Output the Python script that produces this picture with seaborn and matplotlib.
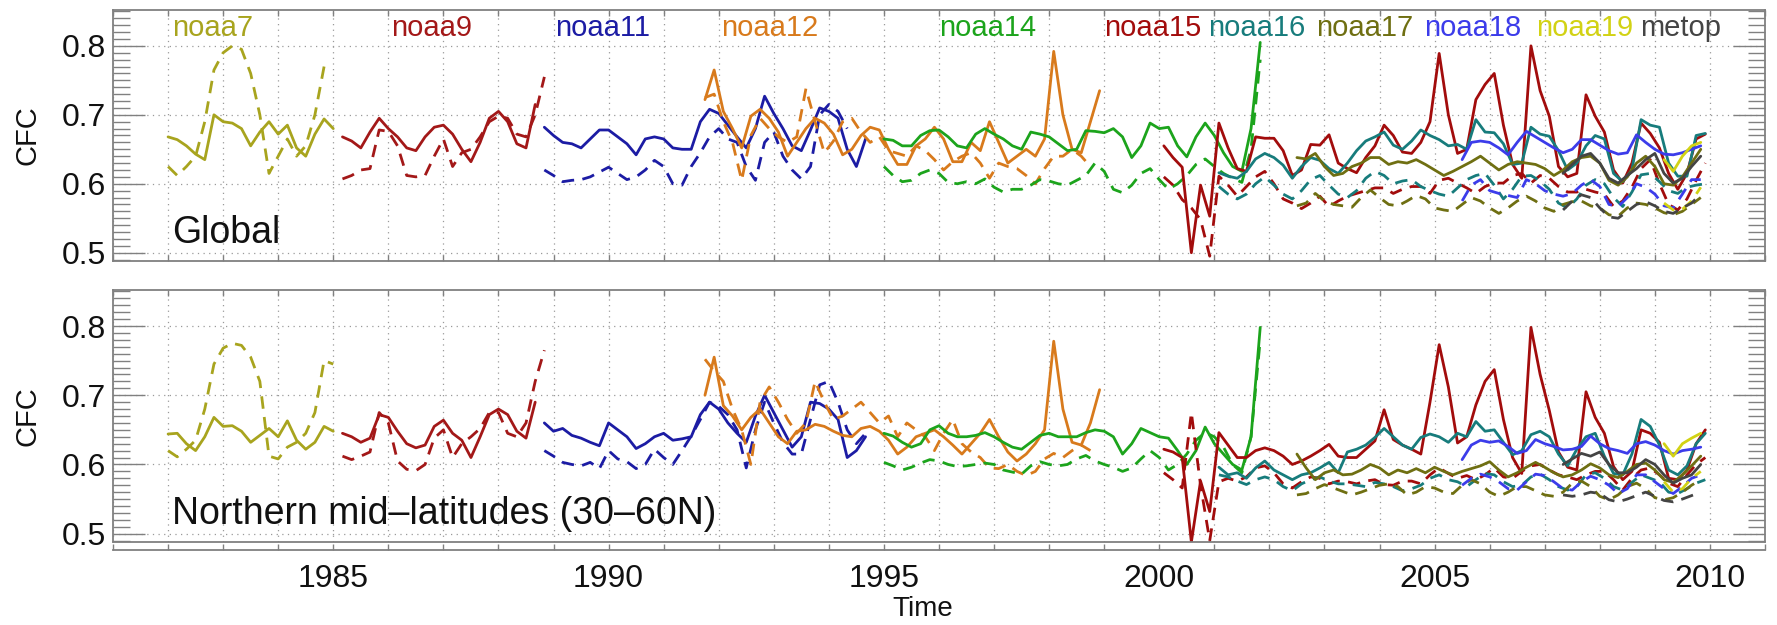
import numpy as np
import pandas as pd
import matplotlib
matplotlib.use("Agg")
import matplotlib.pyplot as plt
import seaborn as sns
from matplotlib.ticker import MultipleLocator, FixedLocator
from matplotlib.lines import Line2D
import matplotlib.transforms as mtransforms

# ---------------- data (bimonthly samples, CFC) ----------------
STEP = 1.0 / 6.0
satellites = ["noaa7", "noaa9", "noaa11", "noaa12", "noaa14", "noaa15",
              "noaa16", "noaa17", "noaa18", "noaa19", "metop"]
start_year = [1982.0, 1985.167, 1988.833, 1991.75, 1995.0, 2000.083,
              2001.083, 2002.5, 2005.5, 2009.167, 2007.333]
label_year = [1982.08, 1986.05, 1989.02, 1992.05, 1996.0, 1998.99,
              2000.89, 2002.84, 2004.8, 2006.85, 2008.73]

# Global
g7_solid = [0.668,0.664,0.655,0.643,0.635,0.700,0.690,0.688,0.680,0.655,0.675,0.690,0.672,0.685,0.652,0.640,0.672,0.694,0.680]
g7_dash = [0.625,0.612,0.625,0.640,0.690,0.765,0.790,0.800,0.795,0.760,0.700,0.615,0.640,0.665,0.640,0.655,0.700,0.770]
g9_solid = [0.668,0.662,0.652,0.675,0.695,0.680,0.668,0.652,0.648,0.668,0.682,0.685,0.672,0.650,0.632,0.660,0.695,0.705,0.690,0.658,0.652,0.715]
g9_dash = [0.607,0.612,0.620,0.622,0.678,0.676,0.655,0.612,0.610,0.612,0.640,0.665,0.625,0.645,0.650,0.668,0.690,0.698,0.695,0.672,0.668,0.700,0.755]
g11_solid = [0.682,0.670,0.660,0.658,0.652,0.665,0.678,0.678,0.668,0.658,0.642,0.665,0.668,0.665,0.652,0.650,0.650,0.690,0.708,0.702,0.685,0.668,0.652,0.680,0.727,0.702,0.680,0.655,0.648,0.678,0.710,0.705,0.695,0.650,0.625,0.665]
g11_dash = [0.620,0.612,0.603,0.605,0.606,0.610,0.617,0.624,0.615,0.606,0.610,0.620,0.634,0.625,0.600,0.598,0.625,0.645,0.668,0.680,0.665,0.660,0.625,0.605,0.660,0.675,0.640,0.620,0.607,0.625,0.700,0.715,0.705,0.680]
g12_solid = [0.722,0.765,0.705,0.680,0.652,0.698,0.708,0.695,0.675,0.640,0.660,0.680,0.695,0.688,0.672,0.642,0.650,0.670,0.682,0.678,0.650,0.628,0.628,0.655,0.665,0.682,0.665,0.632,0.632,0.660,0.648,0.690,0.660,0.630,0.640,0.650,0.640,0.665,0.792,0.700,0.650,0.645,0.690,0.735]
g12_dash = [0.725,0.730,0.690,0.660,0.605,0.670,0.695,0.680,0.668,0.660,0.668,0.738,0.690,0.645,0.662,0.690,0.695,0.675,0.660,0.668,0.648,0.644,0.640,0.655,0.648,0.635,0.620,0.632,0.640,0.645,0.630,0.608,0.630,0.625,0.622,0.612,0.600,0.622,0.640,0.640,0.650,0.640,0.625]
g14_solid = [0.665,0.663,0.655,0.655,0.670,0.677,0.678,0.668,0.655,0.652,0.672,0.680,0.672,0.665,0.655,0.650,0.675,0.672,0.668,0.658,0.648,0.650,0.677,0.676,0.674,0.680,0.668,0.638,0.655,0.688,0.680,0.682,0.655,0.639,0.668,0.688,0.670,0.645,0.625,0.618,0.680,0.805]
g14_dash = [0.625,0.612,0.603,0.605,0.615,0.620,0.615,0.602,0.600,0.603,0.600,0.607,0.595,0.588,0.592,0.592,0.598,0.606,0.604,0.600,0.598,0.605,0.612,0.630,0.618,0.592,0.587,0.598,0.615,0.622,0.606,0.592,0.600,0.612,0.628,0.636,0.625,0.615,0.608,0.602,0.650,0.780]
g15_solid = [0.655,0.638,0.624,0.500,0.598,0.553,0.688,0.652,0.622,0.618,0.668,0.666,0.666,0.648,0.612,0.620,0.657,0.656,0.671,0.630,0.622,0.616,0.638,0.655,0.685,0.670,0.646,0.644,0.660,0.690,0.789,0.700,0.644,0.650,0.722,0.744,0.760,0.685,0.628,0.608,0.800,0.735,0.698,0.625,0.610,0.615,0.729,0.698,0.675,0.620,0.601,0.630,0.688,0.673,0.652,0.615,0.592,0.615,0.665,0.672]
g15_dash = [0.610,0.598,0.577,0.565,0.548,0.495,0.611,0.598,0.582,0.596,0.610,0.618,0.600,0.578,0.572,0.564,0.572,0.582,0.567,0.575,0.582,0.586,0.590,0.594,0.594,0.586,0.592,0.596,0.596,0.586,0.605,0.608,0.601,0.594,0.586,0.596,0.601,0.601,0.612,0.615,0.601,0.612,0.608,0.596,0.588,0.588,0.592,0.588,0.585,0.567,0.575,0.595,0.622,0.635,0.600,0.570,0.562,0.578,0.605,0.630]
g16_solid = [0.616,0.611,0.608,0.618,0.636,0.644,0.638,0.627,0.608,0.625,0.638,0.634,0.622,0.615,0.630,0.648,0.662,0.668,0.675,0.656,0.650,0.662,0.678,0.670,0.664,0.655,0.657,0.650,0.693,0.675,0.674,0.658,0.628,0.630,0.682,0.672,0.669,0.648,0.620,0.630,0.655,0.670,0.665,0.615,0.603,0.620,0.693,0.685,0.682,0.630,0.611,0.611,0.670,0.673]
g16_dash = [0.596,0.585,0.578,0.585,0.600,0.610,0.598,0.585,0.578,0.590,0.606,0.612,0.598,0.585,0.580,0.590,0.608,0.618,0.612,0.600,0.604,0.606,0.596,0.590,0.585,0.582,0.594,0.606,0.612,0.615,0.598,0.578,0.592,0.611,0.612,0.604,0.592,0.572,0.565,0.578,0.598,0.606,0.600,0.580,0.567,0.588,0.613,0.615,0.603,0.590,0.586,0.595,0.598,0.600]
g17_solid = [0.638,0.636,0.644,0.625,0.612,0.615,0.625,0.630,0.638,0.638,0.628,0.632,0.630,0.635,0.628,0.620,0.612,0.618,0.625,0.632,0.640,0.630,0.620,0.628,0.632,0.630,0.628,0.622,0.612,0.620,0.632,0.638,0.640,0.630,0.605,0.598,0.610,0.630,0.640,0.625,0.600,0.598,0.610,0.630,0.650]
g17_dash = [0.568,0.572,0.586,0.575,0.570,0.568,0.566,0.580,0.591,0.580,0.570,0.568,0.575,0.583,0.578,0.565,0.562,0.560,0.570,0.580,0.575,0.565,0.557,0.565,0.575,0.582,0.575,0.565,0.560,0.570,0.574,0.575,0.568,0.565,0.555,0.553,0.565,0.572,0.570,0.565,0.558,0.555,0.560,0.570,0.580]
g18_solid = [0.635,0.660,0.662,0.660,0.652,0.642,0.660,0.676,0.668,0.660,0.652,0.645,0.650,0.664,0.664,0.656,0.648,0.643,0.645,0.671,0.660,0.650,0.643,0.642,0.645,0.650,0.655]
g18_dash = [0.575,0.598,0.606,0.590,0.586,0.583,0.580,0.606,0.600,0.590,0.585,0.582,0.586,0.598,0.606,0.596,0.570,0.567,0.580,0.600,0.595,0.585,0.568,0.565,0.585,0.606,0.606]
g19_solid = [0.635,0.618,0.640,0.655,0.660]
g19_dash = [0.572,0.562,0.563,0.575,0.595]
gm_solid = [0.615,0.628,0.640,0.644,0.630,0.608,0.601,0.612,0.622,0.635,0.644,0.615,0.601,0.608,0.625,0.640]
gm_dash = [0.562,0.575,0.584,0.580,0.565,0.552,0.550,0.560,0.570,0.574,0.568,0.560,0.557,0.565,0.572,0.585]

# Northern mid-latitudes (30-60N)
n7_solid = [0.644,0.645,0.630,0.620,0.640,0.668,0.655,0.656,0.648,0.632,0.642,0.652,0.640,0.663,0.635,0.622,0.632,0.655,0.648]
n7_dash = [0.620,0.611,0.622,0.635,0.680,0.745,0.768,0.775,0.772,0.755,0.720,0.612,0.608,0.625,0.632,0.645,0.675,0.750,0.745]
n9_solid = [0.645,0.640,0.632,0.638,0.672,0.668,0.648,0.630,0.624,0.628,0.655,0.664,0.645,0.635,0.610,0.640,0.672,0.680,0.672,0.648,0.638,0.690]
n9_dash = [0.612,0.607,0.612,0.618,0.675,0.660,0.605,0.593,0.591,0.600,0.638,0.650,0.610,0.630,0.640,0.652,0.675,0.675,0.645,0.640,0.660,0.720,0.765]
n11_solid = [0.660,0.648,0.652,0.642,0.638,0.632,0.627,0.660,0.650,0.640,0.623,0.630,0.640,0.645,0.635,0.637,0.640,0.672,0.690,0.680,0.660,0.645,0.632,0.670,0.700,0.675,0.650,0.625,0.640,0.690,0.688,0.680,0.665,0.610,0.620,0.640]
n11_dash = [0.620,0.612,0.603,0.600,0.598,0.603,0.594,0.620,0.608,0.604,0.594,0.600,0.622,0.610,0.600,0.620,0.641,0.665,0.690,0.684,0.672,0.650,0.595,0.650,0.690,0.660,0.632,0.615,0.615,0.665,0.715,0.720,0.690,0.650,0.630,0.645]
n12_solid = [0.700,0.755,0.685,0.670,0.650,0.668,0.680,0.660,0.640,0.630,0.648,0.650,0.658,0.655,0.648,0.642,0.640,0.652,0.655,0.648,0.635,0.615,0.625,0.640,0.645,0.650,0.640,0.628,0.615,0.630,0.645,0.665,0.640,0.618,0.605,0.615,0.630,0.650,0.778,0.680,0.632,0.628,0.660,0.708]
n12_dash = [0.752,0.735,0.720,0.680,0.650,0.600,0.690,0.712,0.690,0.665,0.645,0.660,0.720,0.690,0.665,0.670,0.680,0.690,0.675,0.660,0.670,0.640,0.660,0.650,0.640,0.620,0.645,0.665,0.630,0.618,0.610,0.595,0.594,0.600,0.590,0.584,0.590,0.608,0.616,0.610,0.620,0.628,0.620]
n14_solid = [0.645,0.641,0.632,0.625,0.630,0.650,0.656,0.645,0.640,0.640,0.642,0.646,0.640,0.632,0.625,0.622,0.632,0.642,0.645,0.640,0.640,0.640,0.646,0.650,0.648,0.640,0.615,0.630,0.652,0.646,0.640,0.638,0.620,0.600,0.620,0.654,0.630,0.615,0.600,0.592,0.640,0.798]
n14_dash = [0.603,0.598,0.592,0.596,0.602,0.607,0.605,0.600,0.597,0.598,0.600,0.602,0.600,0.592,0.589,0.586,0.598,0.604,0.600,0.598,0.600,0.608,0.613,0.605,0.600,0.596,0.590,0.595,0.608,0.620,0.610,0.592,0.600,0.615,0.635,0.646,0.640,0.625,0.600,0.588,0.640,0.780]
n15_solid = [0.622,0.618,0.610,0.488,0.576,0.532,0.646,0.628,0.610,0.610,0.620,0.624,0.620,0.612,0.600,0.605,0.612,0.620,0.629,0.612,0.610,0.610,0.622,0.634,0.679,0.636,0.628,0.622,0.615,0.690,0.773,0.712,0.631,0.640,0.686,0.720,0.737,0.665,0.610,0.587,0.798,0.730,0.678,0.618,0.596,0.592,0.705,0.668,0.645,0.597,0.578,0.590,0.650,0.645,0.632,0.580,0.578,0.592,0.630,0.650]
n15_dash = [0.588,0.578,0.566,0.675,0.570,0.490,0.575,0.580,0.576,0.582,0.595,0.598,0.588,0.572,0.566,0.575,0.582,0.580,0.572,0.576,0.575,0.572,0.576,0.578,0.571,0.570,0.576,0.576,0.572,0.585,0.595,0.587,0.580,0.584,0.578,0.585,0.595,0.582,0.580,0.590,0.598,0.600,0.592,0.585,0.582,0.578,0.585,0.590,0.590,0.578,0.563,0.580,0.592,0.595,0.585,0.573,0.568,0.585,0.600,0.610]
n16_solid = [0.596,0.585,0.588,0.580,0.595,0.605,0.592,0.585,0.578,0.585,0.588,0.595,0.603,0.588,0.618,0.622,0.628,0.639,0.652,0.640,0.628,0.622,0.639,0.644,0.640,0.632,0.645,0.640,0.662,0.648,0.650,0.632,0.614,0.620,0.643,0.648,0.640,0.615,0.598,0.622,0.640,0.645,0.612,0.587,0.585,0.615,0.665,0.655,0.628,0.592,0.585,0.598,0.630,0.645]
n16_dash = [0.585,0.582,0.576,0.571,0.578,0.582,0.578,0.568,0.562,0.572,0.578,0.582,0.576,0.572,0.572,0.570,0.568,0.574,0.572,0.568,0.562,0.565,0.570,0.580,0.585,0.578,0.575,0.568,0.578,0.587,0.585,0.575,0.568,0.570,0.582,0.586,0.578,0.568,0.563,0.568,0.585,0.588,0.580,0.568,0.563,0.574,0.585,0.580,0.575,0.560,0.558,0.565,0.573,0.578]
n17_solid = [0.615,0.595,0.578,0.588,0.592,0.585,0.586,0.592,0.600,0.595,0.585,0.592,0.588,0.594,0.588,0.596,0.590,0.585,0.590,0.594,0.598,0.604,0.592,0.582,0.588,0.596,0.603,0.596,0.588,0.582,0.585,0.592,0.601,0.595,0.585,0.581,0.590,0.600,0.602,0.592,0.578,0.574,0.585,0.598,0.612]
n17_dash = [0.556,0.558,0.565,0.571,0.566,0.561,0.556,0.560,0.565,0.570,0.572,0.568,0.556,0.560,0.568,0.566,0.560,0.558,0.570,0.578,0.572,0.560,0.554,0.560,0.568,0.568,0.562,0.556,0.554,0.560,0.573,0.576,0.568,0.554,0.549,0.556,0.568,0.573,0.565,0.552,0.549,0.552,0.560,0.570,0.578]
n18_solid = [0.607,0.628,0.635,0.632,0.634,0.626,0.616,0.620,0.636,0.630,0.626,0.621,0.622,0.626,0.641,0.630,0.623,0.620,0.616,0.630,0.633,0.628,0.620,0.615,0.620,0.622,0.625]
n18_dash = [0.570,0.580,0.586,0.582,0.575,0.565,0.563,0.575,0.586,0.584,0.575,0.565,0.563,0.575,0.583,0.578,0.570,0.558,0.565,0.585,0.585,0.575,0.565,0.558,0.568,0.580,0.585]
n19_solid = [0.630,0.612,0.630,0.638,0.645]
n19_dash = [0.575,0.560,0.565,0.580,0.590]
nm_solid = [0.600,0.608,0.616,0.612,0.618,0.600,0.588,0.588,0.596,0.607,0.600,0.585,0.573,0.580,0.585,0.600]
nm_dash = [0.556,0.554,0.556,0.560,0.558,0.549,0.546,0.550,0.555,0.560,0.554,0.548,0.546,0.550,0.555,0.560]

global_solid = [g7_solid, g9_solid, g11_solid, g12_solid, g14_solid, g15_solid,
                g16_solid, g17_solid, g18_solid, g19_solid, gm_solid]
global_dash = [g7_dash, g9_dash, g11_dash, g12_dash, g14_dash, g15_dash,
               g16_dash, g17_dash, g18_dash, g19_dash, gm_dash]
north_solid = [n7_solid, n9_solid, n11_solid, n12_solid, n14_solid, n15_solid,
               n16_solid, n17_solid, n18_solid, n19_solid, nm_solid]
north_dash = [n7_dash, n9_dash, n11_dash, n12_dash, n14_dash, n15_dash,
              n16_dash, n17_dash, n18_dash, n19_dash, nm_dash]

# ---------------- styling ----------------
colors = ["#a8a41e", "#a31818", "#1c1ca4", "#d87a1c", "#1ca41c", "#a20c0c",
          "#177c7c", "#6f6f12", "#3c3cea", "#d2d214", "#444444"]
DASH = (0, (4.5, 3.0))
AXCOL = "#808080"

sns.set_theme(style="white")
plt.rcParams["font.family"] = ["Liberation Sans", "DejaVu Sans"]

W, H = 1777, 625
fig = plt.figure(figsize=(W / 100, H / 100), dpi=100)
left, right = 113, 1765
ax1 = fig.add_axes([left / W, 1 - 261 / H, (right - left) / W, 251 / H])
ax2 = fig.add_axes([left / W, 1 - 542 / H, (right - left) / W, 252 / H])


def build_frame(solid, dash):
    rows = []
    for i, sat in enumerate(satellites):
        for kind, vals in (("solid", solid[i]), ("dash", dash[i])):
            t = start_year[i] + np.arange(len(vals)) * STEP
            rows.append(pd.DataFrame({"time": t, "cfc": vals, "sat": sat, "kind": kind}))
    return pd.concat(rows, ignore_index=True)


def draw_panel(ax, df):
    for i, sat in enumerate(satellites):
        for kind in ("solid", "dash"):
            sub = df[(df["sat"] == sat) & (df["kind"] == kind)]
            sns.lineplot(data=sub, x="time", y="cfc", ax=ax, color=colors[i],
                         linewidth=2.0, estimator=None, sort=False,
                         linestyle="-" if kind == "solid" else DASH, legend=False)
    ax.set_xlim(1981, 2011)
    ax.set_ylim(0.488, 0.852)
    ax.yaxis.set_major_locator(FixedLocator([0.5, 0.6, 0.7, 0.8]))
    ax.yaxis.set_minor_locator(MultipleLocator(0.01))
    ax.xaxis.set_major_locator(MultipleLocator(5))
    ax.xaxis.set_minor_locator(MultipleLocator(1))
    ax.set_yticklabels(["0.5", "0.6", "0.7", "0.8"])
    ax.tick_params(axis="y", which="major", direction="in", left=True, right=True,
                   length=23, width=1.0, color=AXCOL, labelsize=23, pad=5,
                   labelcolor="#111111")
    ax.tick_params(axis="y", which="minor", direction="in", left=True, right=True,
                   length=12, width=1.0, color=AXCOL)
    ax.tick_params(axis="x", which="both", direction="in", bottom=True, top=True,
                   length=4, width=1.0, color=AXCOL)
    ax.grid(False)
    ax.xaxis.grid(True, which="both", linestyle=(0, (1, 3.5)), color="#9a9a9a", linewidth=0.9)
    ax.yaxis.grid(True, which="major", linestyle=(0, (1, 3.5)), color="#9a9a9a", linewidth=0.9)
    ax.set_axisbelow(True)
    for s in ax.spines.values():
        s.set_color(AXCOL)
        s.set_linewidth(1.3)
    ax.set_ylabel("CFC", fontsize=21, color="#111111")
    ax.yaxis.set_label_coords(-0.043, 0.5)


df_g = build_frame(global_solid, global_dash)
df_n = build_frame(north_solid, north_dash)
draw_panel(ax1, df_g)
draw_panel(ax2, df_n)

ax1.set_xlabel("")
ax1.tick_params(axis="x", labelbottom=False)
ax1.text(0.036, 0.11, "Global", transform=ax1.transAxes, fontsize=27,
         color="#111111", ha="left", va="center")
ax2.text(0.036, 0.11, "Northern mid\u2013latitudes (30\u201360N)", transform=ax2.transAxes,
         fontsize=27, color="#111111", ha="left", va="center")

trans = mtransforms.blended_transform_factory(ax1.transData, ax1.transAxes)
for i, sat in enumerate(satellites):
    ax1.text(label_year[i], 0.895, sat, transform=trans, color=colors[i],
             fontsize=21, ha="left", va="baseline", zorder=1)

# bottom panel: offset x axis below the frame, as in the original
ax2.spines["bottom"].set_position(("outward", 6))
ax2.add_line(Line2D([0, 1], [0, 0], transform=ax2.transAxes, color=AXCOL,
                    linewidth=1.3, clip_on=False))
ax2.tick_params(axis="x", which="major", labelsize=23, pad=10, labelcolor="#111111")
ax2.set_xlabel("Time", fontsize=20, color="#111111")
ax2.xaxis.set_label_coords(0.49, -0.215)

fig.savefig("out.png", dpi=100)
